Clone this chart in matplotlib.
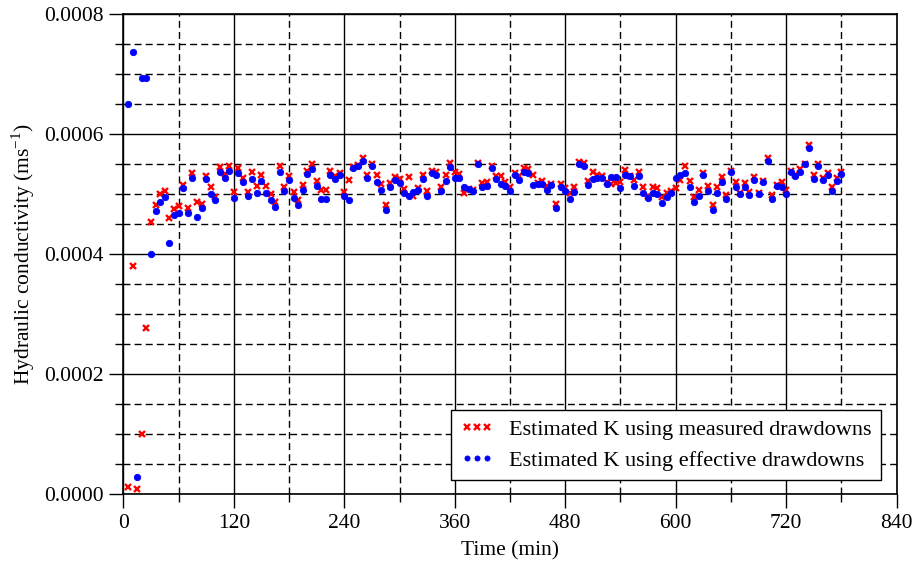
import numpy as np
import matplotlib
matplotlib.use("Agg")
import matplotlib.pyplot as plt
from matplotlib.ticker import MultipleLocator, FormatStrFormatter

plt.rcParams['font.family'] = ['Liberation Serif', 'DejaVu Serif']
plt.rcParams['mathtext.fontset'] = 'custom'
plt.rcParams['mathtext.rm'] = 'Liberation Serif'

# Pumping time (min), one estimate every 5 minutes
time_min = np.arange(5, 785, 5)

# Hydraulic conductivity K (m/s) from measured drawdowns
k_measured = [
    0.000012, 0.000381, 0.0000083, 0.000100, 0.000278, 0.000454, 0.000483, 0.000500, 0.000506, 0.000461,
    0.000476, 0.000481, 0.000515, 0.000477, 0.000535, 0.000488, 0.000484, 0.000531, 0.000512, 0.000496,
    0.000545, 0.000534, 0.000548, 0.000504, 0.000544, 0.000528, 0.000504, 0.000537, 0.000514, 0.000533,
    0.000514, 0.000500, 0.000488, 0.000548, 0.000513, 0.000531, 0.000504, 0.000491, 0.000516, 0.000539,
    0.000550, 0.000523, 0.000508, 0.000508, 0.000539, 0.000531, 0.000536, 0.000504, 0.000524, 0.000545,
    0.000549, 0.000561, 0.000532, 0.000550, 0.000532, 0.000517, 0.000482, 0.000519, 0.000529, 0.000526,
    0.000509, 0.000529, 0.000498, 0.000511, 0.000533, 0.000506, 0.000539, 0.000538, 0.000513, 0.000532,
    0.000553, 0.000537, 0.000534, 0.000503, 0.000509, 0.000507, 0.000553, 0.000519, 0.000521, 0.000548,
    0.000531, 0.000531, 0.000521, 0.000512, 0.000536, 0.000531, 0.000544, 0.000543, 0.000532, 0.000519,
    0.000523, 0.000514, 0.000517, 0.000484, 0.000518, 0.000510, 0.000502, 0.000512, 0.000554, 0.000553,
    0.000522, 0.000538, 0.000533, 0.000530, 0.000521, 0.000517, 0.000519, 0.000520, 0.000540, 0.000531,
    0.000524, 0.000538, 0.000513, 0.000498, 0.000512, 0.000511, 0.000495, 0.000503, 0.000506, 0.000510,
    0.000524, 0.000548, 0.000522, 0.000495, 0.000507, 0.000535, 0.000514, 0.000482, 0.000512, 0.000529,
    0.000499, 0.000539, 0.000521, 0.000503, 0.000519, 0.000504, 0.000529, 0.000503, 0.000523, 0.000561,
    0.000499, 0.000515, 0.000521, 0.000507, 0.000539, 0.000532, 0.000543, 0.000550, 0.000583, 0.000532,
    0.000550, 0.000528, 0.000536, 0.000513, 0.000528, 0.000538,
]

# Hydraulic conductivity K (m/s) from effective drawdowns
k_effective = [
    0.000650, 0.000737, 0.000029, 0.000694, 0.000694, 0.000401, 0.000472, 0.000487, 0.000496, 0.000419,
    0.000466, 0.000469, 0.000510, 0.000469, 0.000527, 0.000463, 0.000478, 0.000525, 0.000501, 0.000491,
    0.000537, 0.000527, 0.000539, 0.000494, 0.000536, 0.000520, 0.000497, 0.000526, 0.000503, 0.000523,
    0.000503, 0.000491, 0.000479, 0.000537, 0.000506, 0.000524, 0.000494, 0.000483, 0.000508, 0.000534,
    0.000542, 0.000514, 0.000492, 0.000492, 0.000532, 0.000526, 0.000533, 0.000498, 0.000491, 0.000544,
    0.000548, 0.000556, 0.000527, 0.000547, 0.000521, 0.000507, 0.000474, 0.000513, 0.000524, 0.000519,
    0.000503, 0.000497, 0.000504, 0.000507, 0.000526, 0.000498, 0.000535, 0.000532, 0.000506, 0.000522,
    0.000546, 0.000527, 0.000527, 0.000512, 0.000509, 0.000506, 0.000551, 0.000513, 0.000514, 0.000544,
    0.000526, 0.000517, 0.000514, 0.000506, 0.000532, 0.000524, 0.000537, 0.000535, 0.000516, 0.000518,
    0.000518, 0.000507, 0.000516, 0.000478, 0.000512, 0.000506, 0.000492, 0.000504, 0.000551, 0.000547,
    0.000516, 0.000526, 0.000527, 0.000527, 0.000518, 0.000529, 0.000529, 0.000511, 0.000532, 0.000531,
    0.000514, 0.000530, 0.000503, 0.000494, 0.000502, 0.000501, 0.000486, 0.000495, 0.000502, 0.000528,
    0.000533, 0.000536, 0.000513, 0.000487, 0.000498, 0.000533, 0.000506, 0.000474, 0.000503, 0.000521,
    0.000493, 0.000537, 0.000512, 0.000500, 0.000513, 0.000499, 0.000524, 0.000500, 0.000520, 0.000556,
    0.000492, 0.000514, 0.000512, 0.000501, 0.000537, 0.000531, 0.000537, 0.000550, 0.000577, 0.000526,
    0.000548, 0.000524, 0.000533, 0.000506, 0.000522, 0.000534,
]

x_ticks = [0, 120, 240, 360, 480, 600, 720, 840]
label_measured = "Estimated K using measured drawdowns"
label_effective = "Estimated K using effective drawdowns"

fig = plt.figure(figsize=(9.19, 5.65), dpi=100)
ax = fig.add_axes([0.1342, 0.1251, 0.8415, 0.8496])

ax.plot(time_min, k_measured, linestyle='none', marker='x', color='#ff0000',
        markersize=4.6, markeredgewidth=1.7, label=label_measured, zorder=3)
ax.plot(time_min, k_effective, linestyle='none', marker='o', color='#0000ff',
        markersize=4.6, markeredgewidth=0.6, label=label_effective, zorder=4)

ax.set_xlim(0, 840)
ax.set_ylim(0, 0.0008)
ax.set_xticks(x_ticks)
ax.xaxis.set_minor_locator(MultipleLocator(60))
ax.yaxis.set_major_locator(MultipleLocator(0.0002))
ax.yaxis.set_minor_locator(MultipleLocator(0.00005))
ax.yaxis.set_major_formatter(FormatStrFormatter('%.4f'))

ax.set_axisbelow(True)
ax.grid(which='major', color='black', linewidth=1.0, linestyle='-')
ax.grid(which='minor', color='black', linewidth=1.0, linestyle=(0, (5, 3)))

ax.tick_params(which='major', direction='out', length=10, width=1.0,
               labelsize=15.5, pad=4, colors='black')
ax.tick_params(which='minor', direction='out', length=6, width=1.0)
for s in ax.spines.values():
    s.set_linewidth(1.2)
    s.set_color('black')

ax.set_xlabel("Time (min)", fontsize=15.5, labelpad=6)
ax.set_ylabel("Hydraulic conductivity (ms$^{\\mathregular{-1}}$)", fontsize=15.5, labelpad=5)

leg = ax.legend(loc='lower right', bbox_to_anchor=(0.9797, 0.0298), borderaxespad=0,
                numpoints=3, fontsize=16, fancybox=False, framealpha=1,
                edgecolor='black', handlelength=1.5, handletextpad=0.7,
                borderpad=0.42, labelspacing=0.45, markerscale=0.8)
leg.get_frame().set_linewidth(1.0)

fig.savefig("out.png", dpi=100)
